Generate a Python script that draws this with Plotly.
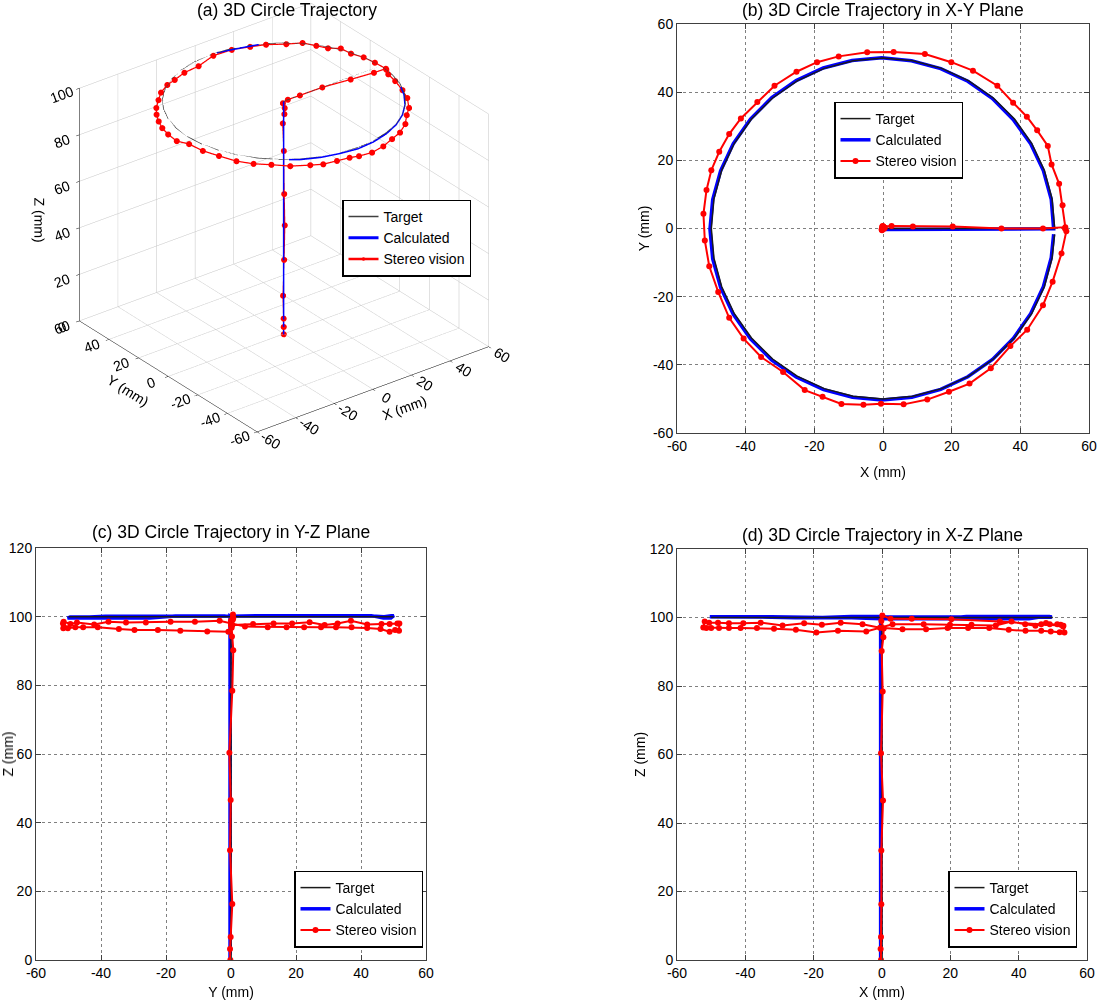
import plotly.graph_objects as go

FONT = 'Liberation Sans, Arial, Helvetica, sans-serif'

# target path: rise to z=100, move out to x=50, then circle of radius 50
target_x = [0, 0, 50, 49.24, 46.98, 43.30, 38.30, 32.14, 25.00, 17.10, 8.68, 0.00,
            -8.68, -17.10, -25.00, -32.14, -38.30, -43.30, -46.98, -49.24, -50.00,
            -49.24, -46.98, -43.30, -38.30, -32.14, -25.00, -17.10, -8.68, 0.00,
            8.68, 17.10, 25.00, 32.14, 38.30, 43.30, 46.98, 49.24, 49.97]
target_y = [0, 0, 0, 8.68, 17.10, 25.00, 32.14, 38.30, 43.30, 46.98, 49.24, 50.00,
            49.24, 46.98, 43.30, 38.30, 32.14, 25.00, 17.10, 8.68, 0.00,
            -8.68, -17.10, -25.00, -32.14, -38.30, -43.30, -46.98, -49.24, -50.00,
            -49.24, -46.98, -43.30, -38.30, -32.14, -25.00, -17.10, -8.68, -1.74]
target_z = [0, 100, 100, 100, 100, 100, 100, 100, 100, 100, 100, 100,
            100, 100, 100, 100, 100, 100, 100, 100, 100,
            100, 100, 100, 100, 100, 100, 100, 100, 100,
            100, 100, 100, 100, 100, 100, 100, 100, 100]

calc_x = [-0.4, -0.4, 49.7, 49.0, 46.7, 43.0, 37.9, 31.8, 24.7, 16.8, 8.3, -0.4,
          -9.0, -17.4, -25.3, -32.4, -38.6, -43.6, -47.3, -49.6, -50.4,
          -49.6, -47.3, -43.6, -38.6, -32.4, -25.3, -17.3, -8.9, -0.3,
          8.4, 16.8, 24.7, 31.9, 38.0, 43.0, 46.7, 49.0, 49.7]
calc_y = [-0.3, -0.3, -0.1, 8.6, 17.0, 24.9, 32.0, 38.2, 43.2, 46.9, 49.2, 50.1,
          49.3, 47.1, 43.4, 38.4, 32.1, 24.9, 16.9, 8.5, -0.2,
          -8.9, -17.3, -25.2, -32.4, -38.6, -43.6, -47.3, -49.5, -50.3,
          -49.5, -47.2, -43.5, -38.4, -32.2, -25.0, -17.1, -8.6, -1.7]
calc_z = [0, 100.2, 100.1, 100.3, 100.3, 100.3, 100.3, 100.3, 100.3, 99.6, 99.6, 100.3,
          100.3, 100.0, 100.2, 100.2, 100.2, 100.2, 100.2, 100.2, 100.2,
          100.1, 100.1, 100.1, 100.1, 100.1, 99.9, 99.9, 99.9, 99.6,
          99.6, 99.6, 99.6, 99.6, 99.6, 99.6, 100.2, 100.2, 100.2]

# stereo vision measurements: vertical rise, radial move, then the circle
stereo_x = [-0.3, -0.4, -0.3, -0.2, -0.2, 0.3, -0.3, 0.2, -0.1, 0.4, 0.5, -0.2, 0.1,
            2.5, 8.7, 20.3, 34.5, 46.6, 53.1,
            52.3, 51.3, 49.1, 48.0, 44.9, 41.9, 37.9, 33.3, 26.2, 19.9, 12.2, 3.1,
            -4.6, -12.9, -19.2, -25.2, -31.6, -36.6, -41.4, -44.8, -47.7, -50.0, -51.4, -52.3,
            -51.9, -50.6, -48.0, -44.8, -40.6, -35.5, -29.1, -22.8, -17.6, -12.1, -5.7, -0.6,
            6.0, 12.9, 19.2, 25.2, 31.4, 37.1, 42.0, 46.6, 49.4, 52.0, 53.4, 53.0]
stereo_y = [-0.2, -0.3, -0.1, 0.4, -0.3, -0.1, -0.5, 0.4, 0.7, 0.3, 0.2, 0.5, 0.6,
            0.7, 0.6, 0.6, 0.0, 0.0, 0.4,
            6.8, 13.1, 18.8, 24.2, 28.8, 32.8, 36.9, 41.9, 46.3, 48.8, 51.2, 51.8,
            51.7, 50.5, 48.8, 46.0, 41.9, 37.1, 32.3, 27.7, 22.5, 17.1, 11.3, 4.3,
            -3.5, -11.1, -18.6, -26.2, -32.3, -37.7, -42.1, -47.4, -49.4, -51.5, -51.7, -51.4,
            -51.6, -50.2, -47.9, -45.5, -41.0, -34.5, -29.7, -22.5, -15.6, -7.3, -0.8, 0.0]
stereo_z = [0.0, 3.2, 6.7, 16.3, 32.0, 46.6, 60.4, 78.4, 90.2, 94.2, 96.8, 99.0, 100.6,
            99.6, 99.6, 99.5, 98.8, 98.0, 97.6,
            97.9, 98.0, 98.0, 98.4, 97.6, 98.0, 98.8, 97.7, 97.9, 97.9, 98.0, 98.0,
            95.9, 96.1, 95.6, 96.4, 96.7, 96.9, 96.9, 96.9, 96.9, 96.9, 96.9, 97.1,
            98.8, 98.5, 98.5, 98.3, 98.3, 98.5, 97.7, 98.3, 97.9, 98.5, 98.0, 97.0,
            96.6, 96.6, 96.9, 96.9, 96.9, 96.4, 96.1, 96.1, 95.9, 95.7, 95.6, 97.4]

xy_ticks = [-60, -40, -20, 0, 20, 40, 60]
xy_labels = ['-60', '-40', '-20', '0', '20', '40', '60']
z_ticks = [0, 20, 40, 60, 80, 100, 120]
z_labels = ['0', '20', '40', '60', '80', '100', '120']

titles = ['(a) 3D Circle Trajectory', '(b) 3D Circle Trajectory in X-Y Plane',
          '(c) 3D Circle Trajectory in Y-Z Plane', '(d) 3D Circle Trajectory in X-Z Plane']

W, H = 1099, 1000


def px_x(p):
    return p / W


def px_y(p):
    return 1 - p / H


def axis2d(x0, x1, anchor, rng, tickvals, ticktext, title, vertical=False):
    dom = [px_y(x1), px_y(x0)] if vertical else [px_x(x0), px_x(x1)]
    return dict(
        domain=dom, anchor=anchor, range=rng,
        tickvals=tickvals, ticktext=ticktext,
        showgrid=True, gridcolor='#808080', griddash='dot', gridwidth=1,
        zeroline=False, showline=True, linecolor='#404040', linewidth=1,
        mirror='ticks', ticks='inside', ticklen=5, tickcolor='#404040',
        tickfont=dict(size=14, color='black'),
        title=dict(text=title, font=dict(size=14, color='black'),
                   standoff=0 if vertical else 14),
        automargin=False,
    )


def axis3d(rng, tickvals, ticktext, title):
    return dict(
        range=rng, tickvals=tickvals, ticktext=ticktext,
        title=dict(text=title, font=dict(size=14, color='black')),
        tickfont=dict(size=13, color='black'),
        showbackground=False, gridcolor='#c4c4c4', gridwidth=1,
        showline=True, linecolor='black', zeroline=False,
        ticks='outside', ticklen=4, tickcolor='black', showspikes=False,
    )


def legend_box(x, y):
    return dict(x=px_x(x), y=px_y(y), xanchor='left', yanchor='middle', bgcolor='white',
                bordercolor='black', borderwidth=1.5,
                font=dict(size=14, color='black', family=FONT),
                itemwidth=30, tracegroupgap=0)


fig = go.Figure()

# (a) 3D view
fig.add_trace(go.Scatter3d(x=calc_x, y=calc_y, z=calc_z, mode='lines', name='Calculated',
                           line=dict(color='blue', width=3), legendrank=2, legend='legend'))
fig.add_trace(go.Scatter3d(x=target_x, y=target_y, z=target_z, mode='lines', name='Target',
                           line=dict(color='#404040', width=1.5), legendrank=1, legend='legend'))
fig.add_trace(go.Scatter3d(x=stereo_x, y=stereo_y, z=stereo_z, mode='lines+markers',
                           name='Stereo vision', line=dict(color='red', width=2.5),
                           marker=dict(color='red', size=3.5), legendrank=3, legend='legend'))

# 2D projections: (b) X-Y, (c) Y-Z, (d) X-Z
panels = [
    ('x', 'y', 'legend2', calc_x, calc_y, target_x, target_y, stereo_x, stereo_y),
    ('x2', 'y2', 'legend3', calc_y, calc_z, target_y, target_z, stereo_y, stereo_z),
    ('x3', 'y3', 'legend4', calc_x, calc_z, target_x, target_z, stereo_x, stereo_z),
]
for xa, ya, lg, cx, cy, tx, ty, sx, sy in panels:
    fig.add_trace(go.Scatter(x=cx, y=cy, mode='lines', name='Calculated', xaxis=xa, yaxis=ya,
                             line=dict(color='blue', width=3.5), legendrank=2, legend=lg))
    fig.add_trace(go.Scatter(x=tx, y=ty, mode='lines', name='Target', xaxis=xa, yaxis=ya,
                             line=dict(color='#1a1a1a', width=1.5), legendrank=1, legend=lg))
    fig.add_trace(go.Scatter(x=sx, y=sy, mode='lines+markers', name='Stereo vision',
                             xaxis=xa, yaxis=ya, line=dict(color='red', width=2),
                             marker=dict(color='red', size=6), legendrank=3, legend=lg))

title_pos = [(287, 10), (883, 10), (231, 532), (882, 535)]
annotations = [dict(text=t, x=px_x(px), y=px_y(py), xref='paper', yref='paper', showarrow=False,
                    xanchor='center', yanchor='middle', font=dict(size=17.5, color='black'))
               for t, (px, py) in zip(titles, title_pos)]

fig.update_layout(
    width=W, height=H, autosize=False,
    margin=dict(l=0, r=0, t=0, b=0),
    paper_bgcolor='white', plot_bgcolor='white',
    font=dict(family=FONT, color='black'),
    annotations=annotations,
    scene=dict(
        domain=dict(x=[px_x(8), px_x(560)], y=[px_y(470), px_y(0)]),
        xaxis=axis3d([-60, 60], xy_ticks, xy_labels, 'X (mm)'),
        yaxis=axis3d([-60, 60], xy_ticks, xy_labels, 'Y (mm)'),
        zaxis=axis3d([0, 100], z_ticks[:6], z_labels[:6], 'Z (mm)'),
        aspectmode='manual', aspectratio=dict(x=1.242, y=1.242, z=1.128),
        camera=dict(eye=dict(x=-0.796, y=-1.037, z=0.629), center=dict(x=0, y=0, z=-0.085),
                    projection=dict(type='orthographic')),
    ),
    xaxis=axis2d(677, 1089, 'y', [-60, 60], xy_ticks, xy_labels, 'X (mm)'),
    yaxis=axis2d(24, 433, 'x', [-60, 60], xy_ticks, xy_labels, 'Y (mm)', vertical=True),
    xaxis2=axis2d(36, 426, 'y2', [-60, 60], xy_ticks, xy_labels, 'Y (mm)'),
    yaxis2=axis2d(548, 960, 'x2', [0, 120], z_ticks, z_labels, 'Z (mm)', vertical=True),
    xaxis3=axis2d(677, 1087, 'y3', [-60, 60], xy_ticks, xy_labels, 'X (mm)'),
    yaxis3=axis2d(549, 960, 'x3', [0, 120], z_ticks, z_labels, 'Z (mm)', vertical=True),
    legend=legend_box(342, 238),
    legend2=legend_box(834, 140),
    legend3=legend_box(294, 909),
    legend4=legend_box(948, 909),
)

# drop the browser's default body margin so the figure sits at the page corner
fig.write_html("out.html", config={'displayModeBar': False},
               post_script="document.body.style.margin = '0';")
